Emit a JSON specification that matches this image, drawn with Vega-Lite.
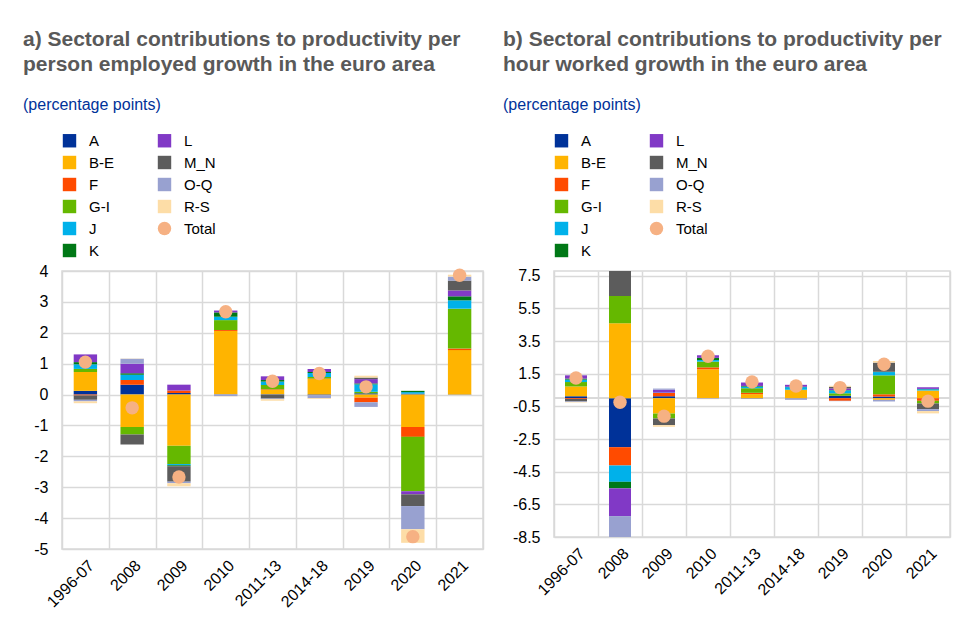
{
  "$schema": "https://vega.github.io/schema/vega-lite/v6.json",
  "padding": {"left": 22, "top": 28, "right": 5, "bottom": 5},
  "background": "white",
  "config": {
    "font": "Liberation Sans",
    "view": {"stroke": "#d9d9d9", "strokeWidth": 1.5},
    "axis": {"labelFont": "Liberation Sans", "labelFontSize": 16, "labelColor": "#000000", "domain": false, "ticks": false, "grid": true, "gridColor": "#d9d9d9", "gridWidth": 1.5, "title": null, "labelOverlap": false},
    "legend": {"orient": "none", "legendX": 0, "columns": 2, "columnPadding": 42, "rowPadding": 6, "symbolSize": 180, "labelFont": "Liberation Sans", "labelFontSize": 15, "labelColor": "#000000", "title": null, "padding": 0, "labelOffset": 12, "symbolStrokeWidth": 0, "symbolOpacity": 1},
    "title": {"anchor": "start", "frame": "group", "fontSize": 21, "font": "Liberation Sans", "fontWeight": "bold", "color": "#595959", "lineHeight": 25, "subtitleFont": "Liberation Sans", "subtitleFontSize": 16, "subtitleColor": "#003299", "subtitlePadding": 22, "offset": 20},
    "concat": {"spacing": 18}
  },
  "datasets": {
    "a": [
      {"period":"1996-07","sector":"A","value":0.12},{"period":"1996-07","sector":"B-E","value":0.61},{"period":"1996-07","sector":"F","value":-0.03},{"period":"1996-07","sector":"G-I","value":0.10},{"period":"1996-07","sector":"J","value":0.15},{"period":"1996-07","sector":"K","value":0.07},{"period":"1996-07","sector":"L","value":0.25},{"period":"1996-07","sector":"M_N","value":-0.14},{"period":"1996-07","sector":"O-Q","value":-0.05},{"period":"1996-07","sector":"R-S","value":-0.06},{"period":"1996-07","sector":"Total","value":1.05},
      {"period":"2008","sector":"A","value":0.32},{"period":"2008","sector":"B-E","value":-1.05},{"period":"2008","sector":"F","value":0.15},{"period":"2008","sector":"G-I","value":-0.24},{"period":"2008","sector":"J","value":0.17},{"period":"2008","sector":"K","value":0.05},{"period":"2008","sector":"L","value":0.31},{"period":"2008","sector":"M_N","value":-0.33},{"period":"2008","sector":"O-Q","value":0.16},{"period":"2008","sector":"R-S","value":0.01},{"period":"2008","sector":"Total","value":-0.43},
      {"period":"2009","sector":"A","value":0.05},{"period":"2009","sector":"B-E","value":-1.66},{"period":"2009","sector":"F","value":0.08},{"period":"2009","sector":"G-I","value":-0.59},{"period":"2009","sector":"J","value":-0.04},{"period":"2009","sector":"K","value":-0.03},{"period":"2009","sector":"L","value":0.19},{"period":"2009","sector":"M_N","value":-0.50},{"period":"2009","sector":"O-Q","value":-0.05},{"period":"2009","sector":"R-S","value":-0.10},{"period":"2009","sector":"Total","value":-2.67},
      {"period":"2010","sector":"A","value":0.01},{"period":"2010","sector":"B-E","value":2.05},{"period":"2010","sector":"F","value":0.03},{"period":"2010","sector":"G-I","value":0.32},{"period":"2010","sector":"J","value":0.11},{"period":"2010","sector":"K","value":0.14},{"period":"2010","sector":"L","value":0.06},{"period":"2010","sector":"M_N","value":0.0},{"period":"2010","sector":"O-Q","value":-0.05},{"period":"2010","sector":"R-S","value":-0.01},{"period":"2010","sector":"Total","value":2.68},
      {"period":"2011-13","sector":"A","value":0.01},{"period":"2011-13","sector":"B-E","value":0.14},{"period":"2011-13","sector":"F","value":0.02},{"period":"2011-13","sector":"G-I","value":0.14},{"period":"2011-13","sector":"J","value":0.11},{"period":"2011-13","sector":"K","value":0.05},{"period":"2011-13","sector":"L","value":0.12},{"period":"2011-13","sector":"M_N","value":-0.13},{"period":"2011-13","sector":"O-Q","value":-0.02},{"period":"2011-13","sector":"R-S","value":-0.05},{"period":"2011-13","sector":"Total","value":0.43},
      {"period":"2014-18","sector":"A","value":0.0},{"period":"2014-18","sector":"B-E","value":0.50},{"period":"2014-18","sector":"F","value":0.02},{"period":"2014-18","sector":"G-I","value":0.05},{"period":"2014-18","sector":"J","value":0.13},{"period":"2014-18","sector":"K","value":0.03},{"period":"2014-18","sector":"L","value":0.10},{"period":"2014-18","sector":"M_N","value":-0.02},{"period":"2014-18","sector":"O-Q","value":-0.10},{"period":"2014-18","sector":"R-S","value":-0.02},{"period":"2014-18","sector":"Total","value":0.68},
      {"period":"2019","sector":"A","value":0.04},{"period":"2019","sector":"B-E","value":-0.10},{"period":"2019","sector":"F","value":-0.15},{"period":"2019","sector":"G-I","value":0.05},{"period":"2019","sector":"J","value":0.24},{"period":"2019","sector":"K","value":0.03},{"period":"2019","sector":"L","value":0.14},{"period":"2019","sector":"M_N","value":0.05},{"period":"2019","sector":"O-Q","value":-0.15},{"period":"2019","sector":"R-S","value":0.06},{"period":"2019","sector":"Total","value":0.25},
      {"period":"2020","sector":"A","value":0.03},{"period":"2020","sector":"B-E","value":-1.05},{"period":"2020","sector":"F","value":-0.32},{"period":"2020","sector":"G-I","value":-1.76},{"period":"2020","sector":"J","value":0.05},{"period":"2020","sector":"K","value":0.04},{"period":"2020","sector":"L","value":-0.10},{"period":"2020","sector":"M_N","value":-0.38},{"period":"2020","sector":"O-Q","value":-0.75},{"period":"2020","sector":"R-S","value":-0.44},{"period":"2020","sector":"Total","value":-4.60},
      {"period":"2021","sector":"A","value":-0.01},{"period":"2021","sector":"B-E","value":1.44},{"period":"2021","sector":"F","value":0.05},{"period":"2021","sector":"G-I","value":1.29},{"period":"2021","sector":"J","value":0.27},{"period":"2021","sector":"K","value":0.13},{"period":"2021","sector":"L","value":0.19},{"period":"2021","sector":"M_N","value":0.32},{"period":"2021","sector":"O-Q","value":0.13},{"period":"2021","sector":"R-S","value":0.06},{"period":"2021","sector":"Total","value":3.86}
    ],
    "b": [
      {"period":"1996-07","sector":"A","value":0.12},{"period":"1996-07","sector":"B-E","value":0.60},{"period":"1996-07","sector":"F","value":-0.05},{"period":"1996-07","sector":"G-I","value":0.27},{"period":"1996-07","sector":"J","value":0.15},{"period":"1996-07","sector":"K","value":0.06},{"period":"1996-07","sector":"L","value":0.20},{"period":"1996-07","sector":"M_N","value":-0.15},{"period":"1996-07","sector":"O-Q","value":-0.03},{"period":"1996-07","sector":"R-S","value":-0.03},{"period":"1996-07","sector":"Total","value":1.24},
      {"period":"2008","sector":"A","value":-3.0},{"period":"2008","sector":"B-E","value":4.59},{"period":"2008","sector":"F","value":-1.12},{"period":"2008","sector":"G-I","value":1.67},{"period":"2008","sector":"J","value":-1.0},{"period":"2008","sector":"K","value":-0.4},{"period":"2008","sector":"L","value":-1.7},{"period":"2008","sector":"M_N","value":2.3},{"period":"2008","sector":"O-Q","value":-1.6},{"period":"2008","sector":"R-S","value":0.0},{"period":"2008","sector":"Total","value":-0.25},
      {"period":"2009","sector":"A","value":0.12},{"period":"2009","sector":"B-E","value":-0.94},{"period":"2009","sector":"F","value":0.20},{"period":"2009","sector":"G-I","value":-0.30},{"period":"2009","sector":"J","value":0.02},{"period":"2009","sector":"K","value":0.0},{"period":"2009","sector":"L","value":0.18},{"period":"2009","sector":"M_N","value":-0.41},{"period":"2009","sector":"O-Q","value":0.07},{"period":"2009","sector":"R-S","value":-0.10},{"period":"2009","sector":"Total","value":-1.10},
      {"period":"2010","sector":"A","value":0.0},{"period":"2010","sector":"B-E","value":1.77},{"period":"2010","sector":"F","value":0.12},{"period":"2010","sector":"G-I","value":0.35},{"period":"2010","sector":"J","value":0.10},{"period":"2010","sector":"K","value":0.13},{"period":"2010","sector":"L","value":0.16},{"period":"2010","sector":"M_N","value":0.0},{"period":"2010","sector":"O-Q","value":-0.04},{"period":"2010","sector":"R-S","value":-0.02},{"period":"2010","sector":"Total","value":2.57},
      {"period":"2011-13","sector":"A","value":0.0},{"period":"2011-13","sector":"B-E","value":0.25},{"period":"2011-13","sector":"F","value":0.08},{"period":"2011-13","sector":"G-I","value":0.28},{"period":"2011-13","sector":"J","value":0.10},{"period":"2011-13","sector":"K","value":0.04},{"period":"2011-13","sector":"L","value":0.21},{"period":"2011-13","sector":"M_N","value":-0.02},{"period":"2011-13","sector":"O-Q","value":-0.02},{"period":"2011-13","sector":"R-S","value":0.0},{"period":"2011-13","sector":"Total","value":1.0},
      {"period":"2014-18","sector":"A","value":0.0},{"period":"2014-18","sector":"B-E","value":0.50},{"period":"2014-18","sector":"F","value":0.0},{"period":"2014-18","sector":"G-I","value":0.02},{"period":"2014-18","sector":"J","value":0.16},{"period":"2014-18","sector":"K","value":0.02},{"period":"2014-18","sector":"L","value":0.12},{"period":"2014-18","sector":"M_N","value":-0.02},{"period":"2014-18","sector":"O-Q","value":-0.08},{"period":"2014-18","sector":"R-S","value":0.0},{"period":"2014-18","sector":"Total","value":0.75},
      {"period":"2019","sector":"A","value":0.15},{"period":"2019","sector":"B-E","value":0.0},{"period":"2019","sector":"F","value":-0.16},{"period":"2019","sector":"G-I","value":0.15},{"period":"2019","sector":"J","value":0.18},{"period":"2019","sector":"K","value":0.02},{"period":"2019","sector":"L","value":0.10},{"period":"2019","sector":"M_N","value":0.10},{"period":"2019","sector":"O-Q","value":-0.02},{"period":"2019","sector":"R-S","value":0.06},{"period":"2019","sector":"Total","value":0.65},
      {"period":"2020","sector":"A","value":0.10},{"period":"2020","sector":"B-E","value":-0.10},{"period":"2020","sector":"F","value":0.14},{"period":"2020","sector":"G-I","value":1.16},{"period":"2020","sector":"J","value":0.20},{"period":"2020","sector":"K","value":0.02},{"period":"2020","sector":"L","value":0.0},{"period":"2020","sector":"M_N","value":0.56},{"period":"2020","sector":"O-Q","value":-0.10},{"period":"2020","sector":"R-S","value":0.10},{"period":"2020","sector":"Total","value":2.08},
      {"period":"2021","sector":"A","value":0.0},{"period":"2021","sector":"B-E","value":0.47},{"period":"2021","sector":"F","value":-0.16},{"period":"2021","sector":"G-I","value":-0.16},{"period":"2021","sector":"J","value":0.08},{"period":"2021","sector":"K","value":0.02},{"period":"2021","sector":"L","value":0.10},{"period":"2021","sector":"M_N","value":-0.35},{"period":"2021","sector":"O-Q","value":-0.12},{"period":"2021","sector":"R-S","value":-0.14},{"period":"2021","sector":"Total","value":-0.18}
    ]
  },
  "resolve": {"scale": {"x": "independent", "y": "independent", "color": "independent", "shape": "independent"}, "legend": {"color": "independent", "shape": "independent"}},
  "hconcat": [
    {
      "width": 421,
      "height": 278,
      "data": {"name": "a"},
      "title": {"text": ["a) Sectoral contributions to productivity per", "person employed growth in the euro area"], "subtitle": "(percentage points)", "dx": -39},
      "layer": [
        {
          "transform": [{"filter": "datum.sector !== 'Total'"}],
          "mark": {"type": "bar", "width": {"band": 0.5}},
          "encoding": {
            "x": {"field": "period", "type": "nominal", "sort": null, "scale": {"paddingInner": 0, "paddingOuter": 0}, "axis": {"tickBand": "extent", "labelAngle": -45, "labelPadding": 8}},
            "y": {"field": "value", "type": "quantitative", "stack": "zero", "scale": {"domain": [-5, 4], "nice": false}, "axis": {"values": [-5, -4, -3, -2, -1, 0, 1, 2, 3, 4], "tickCount": 30, "format": ".0f", "labelExpr": "replace(datum.label, '\u2212', '-')", "labelPadding": 14}},
            "color": {"field": "sector", "type": "nominal", "scale": {"domain": ["A","B-E","F","G-I","J","K","L","M_N","O-Q","R-S","Total"], "range": ["#003299","#FFB400","#FF4B00","#65B800","#00B1EA","#007816","#8139C6","#5C5C5C","#98A1D0","#FDDDA7","#F6B183"]}, "legend": {"legendY": -138}},
            "order": {"field": "sector", "sort": "ascending"}
          }
        },
        {
          "transform": [{"filter": "datum.sector === 'Total'"}],
          "mark": {"type": "point", "filled": true, "size": 180, "opacity": 1},
          "encoding": {
            "x": {"field": "period", "type": "nominal", "sort": null},
            "y": {"field": "value", "type": "quantitative"},
            "color": {"field": "sector", "type": "nominal"},
            "shape": {"field": "sector", "type": "nominal", "scale": {"domain": ["A","B-E","F","G-I","J","K","L","M_N","O-Q","R-S","Total"], "range": ["square","square","square","square","square","square","square","square","square","square","circle"]}, "legend": {"legendY": -138}}
          }
        }
      ]
    },
    {
      "width": 396,
      "height": 266,
      "data": {"name": "b"},
      "title": {"text": ["b) Sectoral contributions to productivity per", "hour worked growth in the euro area"], "subtitle": "(percentage points)", "dx": -51},
      "layer": [
        {
          "mark": {"type": "rule", "color": "#d9d9d9", "strokeWidth": 1.5},
          "encoding": {"y": {"datum": 0}}
        },
        {
          "transform": [{"filter": "datum.sector !== 'Total'"}],
          "mark": {"type": "bar", "width": {"band": 0.5}, "clip": true},
          "encoding": {
            "x": {"field": "period", "type": "nominal", "sort": null, "scale": {"paddingInner": 0, "paddingOuter": 0}, "axis": {"tickBand": "extent", "labelAngle": -45, "labelPadding": 8}},
            "y": {"field": "value", "type": "quantitative", "stack": "zero", "scale": {"domain": [-8.5, 7.79], "nice": false}, "axis": {"values": [-8.5, -6.5, -4.5, -2.5, -0.5, 1.5, 3.5, 5.5, 7.5], "tickCount": 30, "format": ".1f", "labelExpr": "replace(datum.label, '\u2212', '-')", "labelPadding": 14}},
            "color": {"field": "sector", "type": "nominal", "scale": {"domain": ["A","B-E","F","G-I","J","K","L","M_N","O-Q","R-S","Total"], "range": ["#003299","#FFB400","#FF4B00","#65B800","#00B1EA","#007816","#8139C6","#5C5C5C","#98A1D0","#FDDDA7","#F6B183"]}, "legend": {"legendY": -138}},
            "order": {"field": "sector", "sort": "ascending"}
          }
        },
        {
          "transform": [{"filter": "datum.sector === 'Total'"}],
          "mark": {"type": "point", "filled": true, "size": 180, "opacity": 1},
          "encoding": {
            "x": {"field": "period", "type": "nominal", "sort": null},
            "y": {"field": "value", "type": "quantitative"},
            "color": {"field": "sector", "type": "nominal"},
            "shape": {"field": "sector", "type": "nominal", "scale": {"domain": ["A","B-E","F","G-I","J","K","L","M_N","O-Q","R-S","Total"], "range": ["square","square","square","square","square","square","square","square","square","square","circle"]}, "legend": {"legendY": -138}}
          }
        }
      ]
    }
  ]
}
